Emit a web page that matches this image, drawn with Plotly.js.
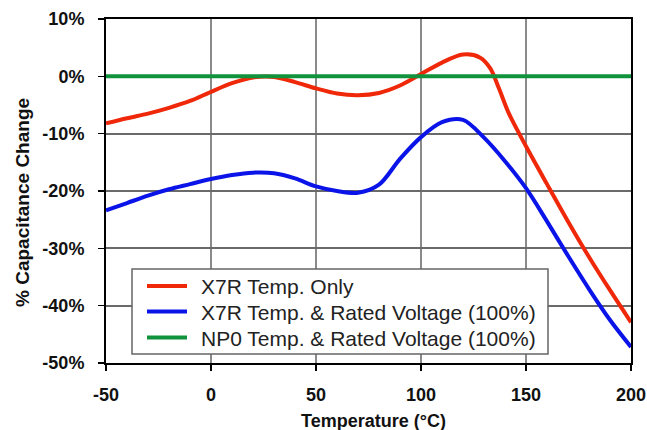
<!DOCTYPE html>
<html>
<head>
<meta charset="utf-8">
<script src="https://cdn.plot.ly/plotly-3.0.1.min.js"></script>
<style>html,body{margin:0;padding:0;background:#fff;}#chart{width:647px;height:430px;}</style>
</head>
<body>
<div id="chart"></div>
<script>
// Data
const seriesNames = ["X7R Temp. Only", "X7R Temp. & Rated Voltage (100%)", "NP0 Temp. & Rated Voltage (100%)"];

const tempX7R = [-50,-40,-30,-20,-10,0,10,20,30,40,50,60,70,80,90,100,110,120,128,133,137,142,150,160,170,180,190,200];
const capX7R  = [-8.2,-7.3,-6.5,-5.5,-4.3,-2.7,-1.2,-0.2,-0.1,-1.0,-2.1,-3.0,-3.3,-2.9,-1.6,0.4,2.4,3.8,3.3,1.4,-2.0,-6.6,-12.2,-18.8,-25.3,-31.5,-37.3,-42.9];

const tempX7RV = [-50,-40,-30,-20,-10,0,10,20,30,40,50,60,70,80,90,100,110,120,130,140,150,160,170,180,190,200];
const capX7RV  = [-23.4,-22.1,-20.8,-19.7,-18.8,-17.9,-17.2,-16.8,-16.9,-17.8,-19.2,-20.0,-20.3,-18.9,-14.4,-10.6,-8.0,-7.6,-10.7,-14.8,-19.5,-25.3,-31.3,-37.1,-42.5,-47.2];

const tempNP0 = [-50, 200];
const capNP0  = [0, 0];

const xTicks = [-50, 0, 50, 100, 150, 200];
const yTicks = [-50, -40, -30, -20, -10, 0, 10];

const colors = ["#f0280a", "#0a14e8", "#10933c"];
const FONT = "Liberation Sans, Arial, Helvetica, sans-serif";

const traces = [
  {x: tempX7R, y: capX7R, name: seriesNames[0]},
  {x: tempX7RV, y: capX7RV, name: seriesNames[1]},
  {x: tempNP0, y: capNP0, name: seriesNames[2]}
].map((t, i) => Object.assign(t, {
  type: "scatter", mode: "lines",
  line: {color: colors[i], width: 4, shape: i < 2 ? "spline" : "linear", smoothing: 0.9},
  hoverinfo: "skip", showlegend: false
}));

// Plot area geometry in pixels (for paper-coordinate placement of the legend)
const PL = 106, PR = 631, PT = 19, PB = 363;
const px2x = p => (p - PL) / (PR - PL);
const px2y = p => (PB - p) / (PB - PT);

// Hand-built legend (box, line swatches, labels)
const legendRows = [286, 311.5, 337.5];
const shapes = [
  {type: "rect", xref: "paper", yref: "paper", layer: "above",
   x0: px2x(132), x1: px2x(548), y0: px2y(354), y1: px2y(269),
   fillcolor: "#fff", line: {color: "#666", width: 1.5}}
];
const annotations = [];
seriesNames.forEach((name, i) => {
  shapes.push({type: "line", xref: "paper", yref: "paper", layer: "above",
    x0: px2x(147), x1: px2x(187), y0: px2y(legendRows[i]), y1: px2y(legendRows[i]),
    line: {color: colors[i], width: 4}});
  annotations.push({text: name, xref: "paper", yref: "paper",
    x: px2x(199), y: px2y(legendRows[i] + 0.5), xanchor: "left", yanchor: "middle",
    showarrow: false, font: {family: FONT, size: 21, color: "#222"}});
});

annotations.push(
  {text: "Temperature (°C)", xref: "paper", yref: "paper",
   x: px2x(373), y: px2y(421), xanchor: "center", yanchor: "middle",
   showarrow: false, font: {family: FONT, size: 18, weight: "bold", color: "#111"}},
  {text: "% Capacitance Change", xref: "paper", yref: "paper",
   x: px2x(22), y: px2y(203), xanchor: "center", yanchor: "middle",
   textangle: -90, showarrow: false, font: {family: FONT, size: 19, weight: "bold", color: "#111"}}
);

const layout = {
  width: 647, height: 430,
  margin: {l: PL, r: 647 - PR, t: PT, b: 430 - PB, pad: 0},
  paper_bgcolor: "#fff", plot_bgcolor: "#fff",
  font: {family: FONT, color: "#111"},
  showlegend: false,
  xaxis: {
    range: [-50, 200], tickvals: xTicks, ticktext: xTicks.map(String),
    showgrid: true, gridcolor: "#8a8a8a", gridwidth: 2,
    showline: true, mirror: true, linecolor: "#000", linewidth: 2,
    ticks: "outside", ticklen: 6, tickcolor: "#000", tickwidth: 1.5,
    tickfont: {family: FONT, size: 18, weight: "bold", color: "#111"},
    ticklabelstandoff: 8, zeroline: false, fixedrange: true
  },
  yaxis: {
    range: [-50, 10], tickvals: yTicks, ticktext: yTicks.map(v => v + "%"),
    showgrid: true, gridcolor: "#6a6a6a", gridwidth: 2,
    showline: true, mirror: true, linecolor: "#000", linewidth: 2,
    ticks: "outside", ticklen: 6, tickcolor: "#000", tickwidth: 1.5,
    tickfont: {family: FONT, size: 18, weight: "bold", color: "#111"},
    ticklabelstandoff: 10, zeroline: false, fixedrange: true
  },
  shapes: shapes,
  annotations: annotations
};

Plotly.newPlot("chart", traces, layout, {staticPlot: true, displayModeBar: false});
</script>
</body>
</html>
